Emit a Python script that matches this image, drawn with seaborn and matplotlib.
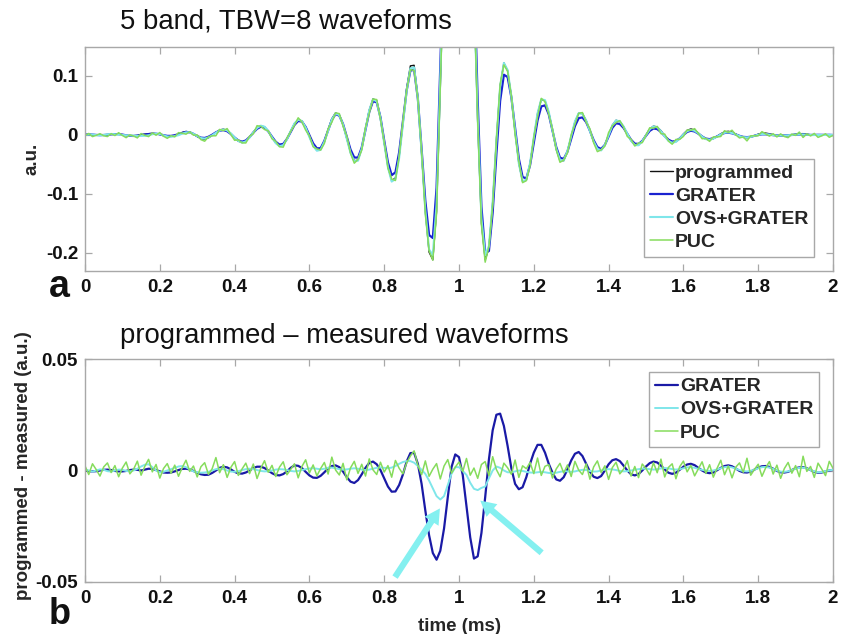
import numpy as np
import pandas as pd
import matplotlib
matplotlib.use("Agg")
import matplotlib.pyplot as plt
import seaborn as sns

# ---------------- data ----------------
TIME_MS = np.round(np.arange(201) * 0.01, 2)          # 0.00 ... 2.00 ms

PROGRAMMED = [
    0.0005, 0.0005, 0.0, -0.0005, -0.0005, 0.0, 0.0005, 0.001, 0.001, 0.0008,
    0.0, -0.001, -0.0015, -0.0015, -0.001, 0.0, 0.001, 0.002, 0.0025, 0.002,
    0.0005, -0.0015, -0.0028, -0.0027, -0.001, 0.0012, 0.004, 0.0057, 0.0048, 0.0014,
    -0.003, -0.0065, -0.0073, -0.0052, -0.0009, 0.0042, 0.0082, 0.0097, 0.0075, 0.0019,
    -0.0052, -0.0108, -0.013, -0.0105, -0.0038, 0.0047, 0.0119, 0.0154, 0.0134, 0.006,
    -0.0044, -0.0138, -0.0187, -0.017, -0.0073, 0.0063, 0.019, 0.0256, 0.0236, 0.0128,
    -0.0029, -0.0177, -0.0262, -0.025, -0.011, 0.0086, 0.0273, 0.0374, 0.034, 0.0178,
    -0.0065, -0.03, -0.044, -0.043, -0.023, 0.01, 0.042, 0.061, 0.058, 0.03,
    -0.013, -0.054, -0.078, -0.073, -0.036, 0.0215, 0.079, 0.117, 0.118, 0.064,
    -0.03, -0.13, -0.199, -0.212, -0.13, 0.08, 0.30, 0.55, 0.76, 0.90,
    0.95, 0.90, 0.76, 0.52, 0.24, 0.02, -0.15, -0.212, -0.192, -0.114,
    -0.008, 0.083, 0.122, 0.109, 0.0646, 0.0053, -0.0486, -0.079, -0.077, -0.0486,
    -0.0055, 0.0359, 0.0597, 0.058, 0.0378, 0.0063, -0.0246, -0.0434, -0.0439, -0.028,
    -0.0027, 0.0222, 0.0366, 0.036, 0.0245, 0.0065, -0.0118, -0.0242, -0.0264, -0.017,
    -0.0001, 0.0164, 0.0247, 0.0226, 0.0139, 0.0016, -0.010, -0.0171, -0.0171, -0.0104,
    0.0002, 0.010, 0.0148, 0.0133, 0.007, -0.0016, -0.0092, -0.0129, -0.0115, -0.0059,
    0.0015, 0.0076, 0.010, 0.0081, 0.0031, -0.0028, -0.0073, -0.0085, -0.0065, -0.0026,
    0.0018, 0.0051, 0.006, 0.0045, 0.0015, -0.0019, -0.0043, -0.0048, -0.0038, -0.0012,
    0.0012, 0.0028, 0.0029, 0.0018, 0.0003, -0.0012, -0.0019, -0.002, -0.0012, 0.0,
    0.0012, 0.0019, 0.002, 0.0012, 0.0, -0.0007, -0.001, -0.001, -0.0005, 0.0,
    0.0,
]

# programmed - measured, per method
DIFF_GRATER = [
    0.0, -0.0003, -0.0004, -0.0003, 0.0, 0.0003, 0.0004, 0.0002, -0.0002, -0.0004,
    -0.0004, -0.0002, 0.0002, 0.0004, 0.0003, 0.0, 0.0004, 0.0008, 0.0007, 0.0002,
    -0.0004, -0.0009, -0.001, -0.0009, -0.0004, 0.0002, 0.0007, 0.0008, 0.0005, -0.0002,
    -0.001, -0.0017, -0.002, -0.0019, -0.0011, 0.0, 0.0012, 0.0017, 0.0014, 0.0005,
    -0.0006, -0.0013, -0.0014, -0.0009, 0.0, 0.0011, 0.0017, 0.0017, 0.0011, 0.0,
    -0.0012, -0.002, -0.0022, -0.0016, -0.0004, 0.0012, 0.0023, 0.0021, 0.0011, -0.0006,
    -0.0022, -0.0032, -0.0033, -0.0024, -0.0008, 0.0009, 0.002, 0.0023, 0.0015, -0.0005,
    -0.003, -0.005, -0.0056, -0.0043, -0.0017, 0.0012, 0.0034, 0.004, 0.0028, 0.0002,
    -0.0035, -0.0072, -0.0095, -0.0094, -0.0065, -0.0018, 0.004, 0.0078, 0.0079, 0.003,
    -0.006, -0.018, -0.029, -0.037, -0.040, -0.036, -0.026, -0.012, 0.0015, 0.0072,
    0.006, -0.002, -0.016, -0.030, -0.0395, -0.0385, -0.028, -0.012, 0.005, 0.018,
    0.025, 0.0255, 0.02, 0.011, 0.001, -0.006, -0.0084, -0.0075, -0.003, 0.003,
    0.008, 0.0115, 0.0115, 0.008, 0.003, -0.001, -0.004, -0.0046, -0.003, 0.0005,
    0.0045, 0.0075, 0.0083, 0.0065, 0.003, -0.0005, -0.0028, -0.0034, -0.0025, 0.0,
    0.0028, 0.0046, 0.0051, 0.0042, 0.0022, 0.0, -0.0017, -0.0022, -0.0016, 0.0,
    0.0018, 0.0033, 0.004, 0.0036, 0.0022, 0.0005, -0.001, -0.0015, -0.001, 0.0003,
    0.0017, 0.0027, 0.003, 0.0024, 0.0012, 0.0, -0.0009, -0.0012, -0.0009, 0.0001,
    0.0012, 0.002, 0.0023, 0.0019, 0.0009, -0.0002, -0.0008, -0.0009, -0.0005, 0.0004,
    0.0013, 0.0019, 0.002, 0.0016, 0.0008, -0.0002, -0.0008, -0.0009, -0.0006, 0.0002,
    0.001, 0.0014, 0.0015, 0.001, 0.0002, -0.0006, -0.001, -0.0009, -0.0004, 0.0,
    0.0003,
]

DIFF_OVS_GRATER = [
    0.0005, 0.0, -0.0005, 0.0, 0.0005, 0.0003, -0.0003, -0.0005, 0.0, 0.0004,
    0.0003, -0.0002, -0.0004, 0.0, 0.0008, 0.0018, 0.0026, 0.0028, 0.0015, 0.0,
    -0.0008, -0.0006, 0.0, 0.0006, 0.0012, 0.0018, 0.002, 0.0015, 0.0005, -0.0004,
    -0.0008, -0.001, -0.0009, -0.0006, 0.0, 0.0006, 0.0008, 0.0006, 0.0, -0.0005,
    -0.0006, -0.0003, 0.0002, 0.0006, 0.0008, 0.0006, 0.0002, -0.0002, -0.0004, -0.0003,
    0.0, 0.0004, 0.0006, 0.0005, 0.0002, -0.0002, -0.0004, -0.0002, 0.0002, 0.0006,
    0.0009, 0.001, 0.0008, 0.0005, 0.0008, 0.0012, 0.0013, 0.001, 0.0006, 0.0004,
    0.0005, 0.0008, 0.001, 0.0008, 0.0004, 0.0002, 0.0004, 0.0008, 0.0012, 0.0014,
    0.0012, 0.001, 0.0013, 0.002, 0.003, 0.0038, 0.0042, 0.0042, 0.0035, 0.002,
    0.0003, -0.0015, -0.0045, -0.008, -0.0115, -0.013, -0.0115, -0.0065, -0.0015, 0.0015,
    0.0015, -0.0002, -0.002, -0.0055, -0.0082, -0.0088, -0.0078, -0.0072, -0.0035, 0.0,
    0.0018, 0.0012, 0.0, -0.0008, -0.0008, -0.0004, 0.0, -0.0002, -0.0006, -0.0009,
    -0.001, -0.0008, -0.0006, -0.0008, -0.0011, -0.0012, -0.001, -0.0006, -0.0003, -0.0004,
    -0.0006, -0.0004, 0.0, 0.0003, 0.0002, -0.0002, -0.0005, -0.0004, 0.0, 0.0004,
    0.0006, 0.0005, 0.0002, -0.0002, -0.0004, -0.0003, 0.0, 0.0003, 0.0006, 0.0008,
    0.0008, 0.0006, 0.0004, 0.0006, 0.0009, 0.0011, 0.001, 0.0006, 0.0004, 0.0006,
    0.001, 0.0014, 0.0015, 0.0012, 0.0007, 0.0003, 0.0, -0.0002, 0.0, 0.0005,
    0.001, 0.0015, 0.0017, 0.0014, 0.0008, 0.0002, -0.0003, -0.0004, -0.0002, 0.0004,
    0.001, 0.0015, 0.0016, 0.0013, 0.0007, 0.0, -0.0005, -0.0006, -0.0004, 0.0002,
    0.0008, 0.0012, 0.0013, 0.0009, 0.0002, -0.0004, -0.0008, -0.0007, -0.0003, 0.0001,
    0.0003,
]

DIFF_PUC = [
    0.0021, -0.0018, 0.0030, 0.0004, -0.0025, 0.0016, 0.0034, -0.0009, 0.0022, -0.0028,
    0.0011, 0.0038, -0.0015, 0.0006, 0.0042, -0.0021, 0.0019, 0.0050, -0.0006, 0.0027,
    -0.0034, 0.0009, 0.0031, -0.0012, 0.0024, -0.0026, 0.0013, 0.0046, -0.0004, 0.0020,
    -0.0029, 0.0017, 0.0035, -0.0017, 0.0008, 0.0058, -0.0010, 0.0026, -0.0031, 0.0014,
    0.0040, -0.0022, 0.0007, 0.0033, -0.0014, 0.0029, -0.0036, 0.0010, 0.0044, -0.0008,
    0.0023, -0.0027, 0.0015, 0.0039, -0.0019, 0.0005, 0.0030, -0.0033, 0.0018, 0.0048,
    -0.0011, 0.0025, -0.0024, 0.0009, 0.0036, -0.0016, 0.0060, 0.0002, -0.0020, 0.0032,
    -0.0042, 0.0012, 0.0041, -0.0013, 0.0028, -0.0025, 0.0052, 0.0003, -0.0018, 0.0037,
    -0.0007, 0.0022, -0.0030, 0.0045, 0.0010, -0.0015, 0.0034, 0.0065, 0.0088, 0.0024,
    -0.0019, 0.0043, -0.0026, 0.0006, 0.0031, -0.0038, 0.0020, 0.0049, -0.0012, 0.0015,
    0.0038, -0.0005, 0.0054, -0.0021, 0.0011, -0.0035, 0.0027, 0.0040, -0.0023, 0.0062,
    0.0004, -0.0028, 0.0033, 0.0012, -0.0017, 0.0047, -0.0031, 0.0021, 0.0008, 0.0036,
    -0.0014, 0.0056, -0.0022, 0.0019, 0.0026, -0.0034, 0.0007, 0.0032, -0.0011, 0.0025,
    -0.0027, 0.0041, 0.0002, -0.0018, 0.0030, -0.0039, 0.0016, 0.0043, -0.0009, 0.0021,
    -0.0040, 0.0013, 0.0037, -0.0015, 0.0006, 0.0044, -0.0025, 0.0018, -0.0032, 0.0029,
    0.0009, -0.0020, 0.0035, -0.0010, 0.0051, -0.0029, 0.0014, 0.0030, -0.0037, 0.0017,
    0.0042, -0.0006, 0.0023, -0.0024, 0.0008, 0.0039, -0.0013, 0.0026, -0.0030, 0.0010,
    0.0046, -0.0019, 0.0020, -0.0033, 0.0015, 0.0034, -0.0008, 0.0055, -0.0021, 0.0005,
    0.0028, -0.0026, 0.0012, 0.0040, -0.0016, 0.0024, -0.0035, 0.0009, 0.0036, -0.0012,
    0.0022, -0.0028, 0.0064, -0.0004, 0.0018, -0.0031, 0.0033, 0.0006, -0.0023, 0.0041,
    0.0010,
]

SERIES_TOP = ["programmed", "GRATER", "OVS+GRATER", "PUC"]
SERIES_BOTTOM = ["GRATER", "OVS+GRATER", "PUC"]
X_TICKS = [0, 0.2, 0.4, 0.6, 0.8, 1.0, 1.2, 1.4, 1.6, 1.8, 2.0]
X_TICK_LABELS = ["0", "0.2", "0.4", "0.6", "0.8", "1", "1.2", "1.4", "1.6", "1.8", "2"]
Y_TICKS_TOP = [-0.2, -0.1, 0.0, 0.1]
Y_TICK_LABELS_TOP = ["-0.2", "-0.1", "0", "0.1"]
Y_TICKS_BOTTOM = [-0.05, 0.0, 0.05]
Y_TICK_LABELS_BOTTOM = ["-0.05", "0", "0.05"]

# annotation arrows (tail -> head), data coordinates of panel b
ARROWS = [((0.829, -0.0478), (0.949, -0.0170)),
          ((1.221, -0.0369), (1.057, -0.0135))]

for arr in (PROGRAMMED, DIFF_GRATER, DIFF_OVS_GRATER, DIFF_PUC):
    assert len(arr) == len(TIME_MS), len(arr)

prog = np.array(PROGRAMMED)
diffs = {"GRATER": np.array(DIFF_GRATER),
         "OVS+GRATER": np.array(DIFF_OVS_GRATER),
         "PUC": np.array(DIFF_PUC)}

top_frames = [pd.DataFrame({"time": TIME_MS, "value": prog, "series": "programmed"})]
for name in SERIES_BOTTOM:
    top_frames.append(pd.DataFrame({"time": TIME_MS, "value": prog - diffs[name], "series": name}))
top_df = pd.concat(top_frames, ignore_index=True)

bottom_df = pd.concat(
    [pd.DataFrame({"time": TIME_MS, "value": diffs[n], "series": n}) for n in SERIES_BOTTOM],
    ignore_index=True)

# ---------------- styling ----------------
sns.set_theme(style="white")
plt.rcParams["font.family"] = ["Liberation Sans", "DejaVu Sans"]
plt.rcParams["font.weight"] = "bold"
plt.rcParams["axes.unicode_minus"] = False

COLORS_TOP = {"programmed": "#111111", "GRATER": "#1a22d0",
              "OVS+GRATER": "#7fe6ea", "PUC": "#86dc5c"}
COLORS_BOTTOM = {"GRATER": "#1a1aa6", "OVS+GRATER": "#7fe6ea", "PUC": "#86dc5c"}
LW_TOP = {"programmed": 1.0, "GRATER": 1.6, "OVS+GRATER": 1.5, "PUC": 1.1}
LW_BOTTOM = {"GRATER": 1.6, "OVS+GRATER": 1.4, "PUC": 1.1}
EDGE = "#a8a8a8"

W, H = 851, 634
fig = plt.figure(figsize=(W / 100, H / 100), dpi=100)
ax1 = fig.add_axes([85 / W, 1 - 271 / H, (833 - 85) / W, (271 - 47) / H])
ax2 = fig.add_axes([85 / W, 1 - 582 / H, (833 - 85) / W, (582 - 359) / H])

for name in SERIES_TOP:
    sns.lineplot(data=top_df[top_df["series"] == name], x="time", y="value",
                 color=COLORS_TOP[name], linewidth=LW_TOP[name], label=name,
                 errorbar=None, ax=ax1)
for name in SERIES_BOTTOM:
    sns.lineplot(data=bottom_df[bottom_df["series"] == name], x="time", y="value",
                 color=COLORS_BOTTOM[name], linewidth=LW_BOTTOM[name], label=name,
                 errorbar=None, ax=ax2)

for tail, head in ARROWS:
    ax2.annotate("", xy=head, xytext=tail, zorder=6,
                 arrowprops=dict(facecolor="#84f0f0", edgecolor="none",
                                 width=4.5, headwidth=12, headlength=11, shrink=0))

for ax, yt, ytl, ylim in ((ax1, Y_TICKS_TOP, Y_TICK_LABELS_TOP, (-0.231, 0.149)),
                          (ax2, Y_TICKS_BOTTOM, Y_TICK_LABELS_BOTTOM, (-0.05, 0.05))):
    ax.set_xlim(0, 2)
    ax.set_ylim(*ylim)
    ax.set_xticks(X_TICKS)
    ax.set_xticklabels(X_TICK_LABELS)
    ax.set_yticks(yt)
    ax.set_yticklabels(ytl)
    ax.tick_params(direction="in", length=5, width=0.9, color=EDGE,
                   top=True, right=True, bottom=True, left=True,
                   labelsize=13.5, labelcolor="#111111")
    ax.tick_params(axis="x", pad=6)
    ax.tick_params(axis="y", pad=5)
    for sp in ax.spines.values():
        sp.set_color(EDGE)
        sp.set_linewidth(1.0)
        sp.set_visible(True)
    ax.set_xlabel("")
    ax.set_ylabel("")

ax1.set_ylabel("a.u.", fontsize=13.5, fontweight="bold")
ax1.yaxis.set_label_coords(-0.059, 0.5)
ax2.set_ylabel("programmed - measured (a.u.)", fontsize=13.5, fontweight="bold")
ax2.yaxis.set_label_coords(-0.071, 0.52)
ax2.set_xlabel("time (ms)", fontsize=13.5, fontweight="bold")
ax2.xaxis.set_label_coords(0.5, -0.16)

leg_kw = dict(fontsize=14, frameon=True, fancybox=False, framealpha=1,
              edgecolor=EDGE, handlelength=1.2, handletextpad=0.1,
              labelspacing=0.28, borderpad=0.3, borderaxespad=0)
leg1 = ax1.legend(loc="lower right", bbox_to_anchor=((814 - 85) / 748, (271 - 257) / 224), **leg_kw)
leg2 = ax2.legend(loc="upper right", bbox_to_anchor=((819 - 85) / 748, (582 - 372) / 223), **leg_kw)
for leg in (leg1, leg2):
    leg.get_frame().set_linewidth(1.0)
    for t in leg.get_texts():
        t.set_fontweight("bold")

fig.text(120 / W, 1 - 22 / H, "5 band, TBW=8 waveforms", fontsize=19.8, fontweight="normal",
         ha="left", va="center", color="#111111")
fig.text(120 / W, 1 - 336 / H, "programmed \u2013 measured waveforms", fontsize=19.8,
         fontweight="normal", ha="left", va="center", color="#111111")
fig.text(49 / W, 1 - 297 / H, "a", fontsize=27, fontweight="bold", ha="left",
         va="baseline", color="#111111")
fig.text(49 / W, 1.5 / H, "b", fontsize=26, fontweight="bold", ha="left",
         va="bottom", color="#111111")

fig.savefig("out.png", dpi=100, facecolor="white")
